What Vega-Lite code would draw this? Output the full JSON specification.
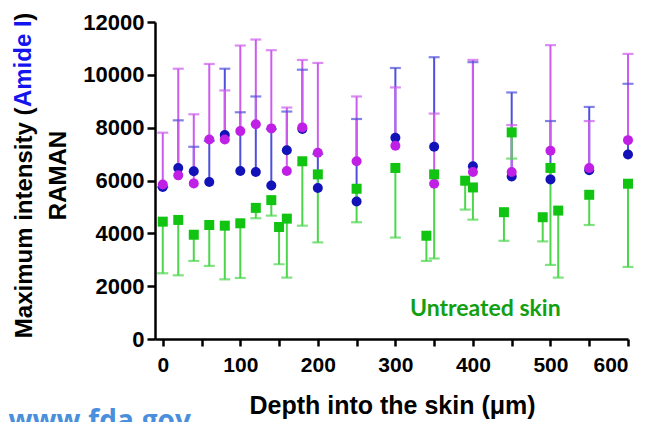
{
  "$schema": "https://vega.github.io/schema/vega-lite/v6.json",
  "width": 473,
  "height": 317,
  "autosize": "none",
  "padding": {"left": 155, "top": 22, "right": 26, "bottom": 83},
  "background": "white",
  "config": {
    "view": {"stroke": null},
    "axis": {
      "grid": false,
      "domainColor": "black",
      "domainWidth": 2.5,
      "tickColor": "black",
      "tickWidth": 2.5,
      "labelFont": "Liberation Sans",
      "labelFontWeight": "bold",
      "labelColor": "black",
      "titleFont": "Liberation Sans",
      "titleFontWeight": "bold",
      "titleColor": "black"
    }
  },
  "datasets": {
    "points": [
      {"s": "Treated A", "d": 0, "v": 5752, "b": 5752},
      {"s": "Treated A", "d": 20, "v": 6476, "b": 8278},
      {"s": "Treated A", "d": 40, "v": 6347, "b": 7276},
      {"s": "Treated A", "d": 60, "v": 5943, "b": 7500},
      {"s": "Treated A", "d": 80, "v": 7718, "b": 10232},
      {"s": "Treated A", "d": 100, "v": 6362, "b": 8583},
      {"s": "Treated A", "d": 120, "v": 6324, "b": 9181},
      {"s": "Treated A", "d": 140, "v": 5813, "b": 7950},
      {"s": "Treated A", "d": 160, "v": 7147, "b": 8610},
      {"s": "Treated A", "d": 180, "v": 7950, "b": 10194},
      {"s": "Treated A", "d": 200, "v": 5714, "b": 7000},
      {"s": "Treated A", "d": 250, "v": 5204, "b": 8328},
      {"s": "Treated A", "d": 300, "v": 7619, "b": 10259},
      {"s": "Treated A", "d": 350, "v": 7276, "b": 10667},
      {"s": "Treated A", "d": 400, "v": 6537, "b": 10480},
      {"s": "Treated A", "d": 450, "v": 6156, "b": 9333},
      {"s": "Treated A", "d": 500, "v": 6042, "b": 8251},
      {"s": "Treated A", "d": 550, "v": 6385, "b": 8785},
      {"s": "Treated A", "d": 600, "v": 6983, "b": 9661},
      {"s": "Treated B", "d": 0, "v": 5851, "b": 7810},
      {"s": "Treated B", "d": 20, "v": 6195, "b": 10232},
      {"s": "Treated B", "d": 40, "v": 5890, "b": 8507},
      {"s": "Treated B", "d": 60, "v": 7554, "b": 10411},
      {"s": "Treated B", "d": 80, "v": 7554, "b": 9410},
      {"s": "Treated B", "d": 100, "v": 7870, "b": 11109},
      {"s": "Treated B", "d": 120, "v": 8126, "b": 11337},
      {"s": "Treated B", "d": 140, "v": 7973, "b": 10933},
      {"s": "Treated B", "d": 160, "v": 6362, "b": 8762},
      {"s": "Treated B", "d": 180, "v": 8011, "b": 10564},
      {"s": "Treated B", "d": 200, "v": 7048, "b": 10450},
      {"s": "Treated B", "d": 250, "v": 6728, "b": 9181},
      {"s": "Treated B", "d": 300, "v": 7314, "b": 9524},
      {"s": "Treated B", "d": 350, "v": 5878, "b": 8533},
      {"s": "Treated B", "d": 400, "v": 6324, "b": 10564},
      {"s": "Treated B", "d": 450, "v": 6324, "b": 8099},
      {"s": "Treated B", "d": 500, "v": 7124, "b": 11124},
      {"s": "Treated B", "d": 550, "v": 6476, "b": 8251},
      {"s": "Treated B", "d": 600, "v": 7528, "b": 10792},
      {"s": "Untreated", "d": 0, "v": 4442, "b": 2488},
      {"s": "Untreated", "d": 20, "v": 4507, "b": 2411},
      {"s": "Untreated", "d": 40, "v": 3947, "b": 2956},
      {"s": "Untreated", "d": 60, "v": 4316, "b": 2766},
      {"s": "Untreated", "d": 80, "v": 4290, "b": 2259},
      {"s": "Untreated", "d": 100, "v": 4381, "b": 2310},
      {"s": "Untreated", "d": 120, "v": 4964, "b": 4571},
      {"s": "Untreated", "d": 140, "v": 5257, "b": 4670},
      {"s": "Untreated", "d": 150, "v": 4240, "b": 2830},
      {"s": "Untreated", "d": 160, "v": 4556, "b": 2324},
      {"s": "Untreated", "d": 180, "v": 6728, "b": 4290},
      {"s": "Untreated", "d": 200, "v": 6232, "b": 3657},
      {"s": "Untreated", "d": 250, "v": 5688, "b": 4419},
      {"s": "Untreated", "d": 300, "v": 6475, "b": 3840},
      {"s": "Untreated", "d": 340, "v": 3909, "b": 2956},
      {"s": "Untreated", "d": 350, "v": 6232, "b": 3048},
      {"s": "Untreated", "d": 390, "v": 5992, "b": 4899},
      {"s": "Untreated", "d": 400, "v": 5737, "b": 4518},
      {"s": "Untreated", "d": 440, "v": 4800, "b": 3718},
      {"s": "Untreated", "d": 450, "v": 7821, "b": 6830},
      {"s": "Untreated", "d": 490, "v": 4610, "b": 3695},
      {"s": "Untreated", "d": 500, "v": 6476, "b": 2804},
      {"s": "Untreated", "d": 510, "v": 4861, "b": 2324},
      {"s": "Untreated", "d": 550, "v": 5459, "b": 4316},
      {"s": "Untreated", "d": 600, "v": 5878, "b": 2728}
    ],
    "one": [{}]
  },
  "data": {"name": "points"},
  "resolve": {"axis": {"x": "independent"}},
  "layer": [
    {
      "mark": {"type": "rule", "strokeWidth": 2},
      "encoding": {
        "x": {"field": "d", "type": "quantitative", "scale": {"domain": [-10, 600], "nice": false, "zero": false},
              "axis": {"orient": "bottom", "values": [50, 150, 250, 350, 450, 550], "labels": false, "domain": false, "tickSize": 7, "title": null}},
        "y": {"field": "v", "type": "quantitative", "scale": {"domain": [0, 12000], "nice": false},
              "axis": {"values": [0, 2000, 4000, 6000, 8000, 10000, 12000], "format": "d", "tickSize": 8, "labelPadding": 3, "labelFontSize": 22,
                       "title": ["Maximum intensity (\u00a0\u00a0\u00a0\u00a0\u00a0\u00a0\u00a0\u00a0\u00a0\u00a0\u00a0\u00a0\u00a0)", "RAMAN"], "titleFontSize": 24, "titleLineHeight": 34,
                       "titleBaseline": "alphabetic", "titleAngle": -90, "titleX": -124, "titleY": 153}},
        "y2": {"field": "b"},
        "stroke": {"field": "s", "type": "nominal", "legend": null,
                   "scale": {"domain": ["Treated A", "Treated B", "Untreated"], "range": ["#4f4fdc", "#cc5cec", "#4cd64c"]}}
      }
    },
    {
      "mark": {"type": "tick", "orient": "horizontal", "size": 11, "thickness": 2.2},
      "encoding": {
        "x": {"field": "d", "type": "quantitative", "axis": null},
        "y": {"field": "b", "type": "quantitative"},
        "color": {"field": "s", "type": "nominal", "legend": null,
                  "scale": {"domain": ["Treated A", "Treated B", "Untreated"], "range": ["#4f4fdc", "#cc5cec", "#4cd64c"]}}
      }
    },
    {
      "mark": {"type": "point", "filled": true, "opacity": 1, "size": 100},
      "encoding": {
        "x": {"field": "d", "type": "quantitative",
              "axis": {"orient": "bottom", "values": [0, 100, 200, 300, 400, 500, 600], "tickSize": 7, "labelPadding": 8, "labelFontSize": 21,
                       "title": "Depth into the skin (\u03bcm)", "titleFontSize": 25, "titleBaseline": "alphabetic", "titleX": 237, "titleY": 74}},
        "y": {"field": "v", "type": "quantitative"},
        "fill": {"field": "s", "type": "nominal", "legend": null,
                 "scale": {"domain": ["Treated A", "Treated B", "Untreated"], "range": ["#1212b8", "#c020e6", "#12c412"]}},
        "shape": {"field": "s", "type": "nominal", "legend": null,
                  "scale": {"domain": ["Treated A", "Treated B", "Untreated"], "range": ["circle", "circle", "square"]}}
      }
    },
    {
      "data": {"name": "one"},
      "mark": {"type": "text", "text": "Untreated skin", "font": "Lato", "fontWeight": "bold", "fontSize": 23, "color": "#12a012", "align": "center", "baseline": "alphabetic"},
      "encoding": {
        "x": {"datum": 416, "type": "quantitative", "axis": null},
        "y": {"datum": 871, "type": "quantitative"}
      }
    },
    {
      "data": {"name": "one"},
      "mark": {"type": "text", "text": "Amide I", "font": "Liberation Sans", "fontWeight": "bold", "fontSize": 24, "color": "#1414ee", "align": "center", "baseline": "alphabetic", "angle": 270},
      "encoding": {
        "x": {"datum": -170, "type": "quantitative", "axis": null},
        "y": {"datum": 10420, "type": "quantitative"}
      }
    },
    {
      "data": {"name": "one"},
      "mark": {"type": "text", "text": "www.fda.gov", "font": "Open Sans", "fontWeight": "bold", "fontSize": 28, "color": "#4a8fdc", "align": "left", "baseline": "alphabetic"},
      "encoding": {
        "x": {"datum": -199, "type": "quantitative", "axis": null},
        "y": {"datum": -3446, "type": "quantitative"}
      }
    }
  ]
}
